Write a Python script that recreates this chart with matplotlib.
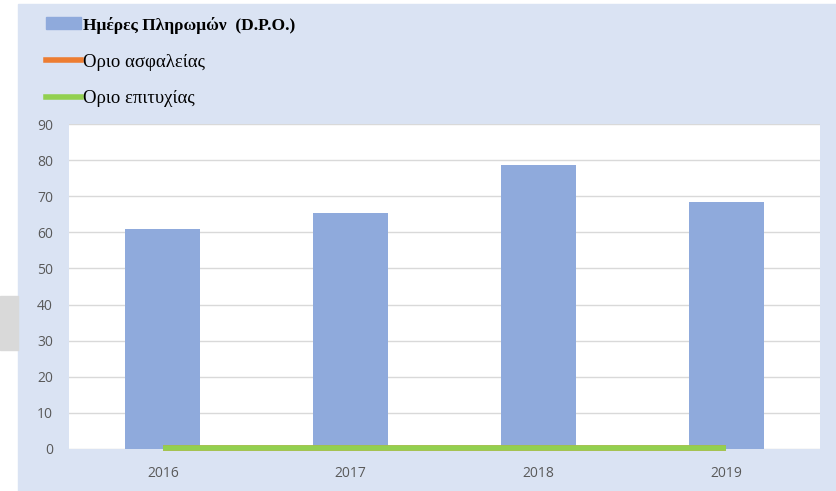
import numpy as np
import matplotlib
matplotlib.use('Agg')
import matplotlib.pyplot as plt
from matplotlib.patches import Rectangle, Patch
from matplotlib.lines import Line2D

years = ['2016', '2017', '2018', '2019']
dpo_days = [61.0, 65.3, 78.6, 68.4]
safety_limit = [0.2, 0.2, 0.2, 0.2]
success_limit = [0.2, 0.2, 0.2, 0.2]

W, H = 836, 491
fig = plt.figure(figsize=(W / 100, H / 100), dpi=100)
fig.patch.set_facecolor('white')

# background panel and the small grey block on the left
fig.patches.append(Rectangle((18 / W, 0), 1 - 18 / W, (H - 4) / H,
                             transform=fig.transFigure, color='#DAE3F3', zorder=-10))
fig.patches.append(Rectangle((0, (H - 350) / H), 18 / W, 54 / H,
                             transform=fig.transFigure, color='#D9D9D9', zorder=-10))

ax = fig.add_axes([69 / W, (H - 449) / H, (820 - 69) / W, (449 - 124) / H])
ax.set_facecolor('white')

x = np.arange(len(years))
ax.bar(x, dpo_days, width=0.4, color='#8FAADC', zorder=2)
ax.plot(x, safety_limit, color='#ED7D31', lw=4, solid_capstyle='butt', zorder=3, clip_on=False)
ax.plot(x, success_limit, color='#92D050', lw=4, solid_capstyle='butt', zorder=4, clip_on=False)

ax.set_xlim(-0.5, 3.5)
ax.set_ylim(0, 90)
ax.set_yticks(range(0, 91, 10))
ax.set_xticks(x)
ax.set_xticklabels(years)
ax.grid(axis='y', color='#D9D9D9', lw=1, zorder=0)
for s in ax.spines.values():
    s.set_visible(False)
ax.tick_params(length=0, labelsize=10, labelcolor='#595959')
ax.tick_params(axis='y', pad=11.5)
ax.tick_params(axis='x', pad=12)
for lab in ax.get_xticklabels() + ax.get_yticklabels():
    lab.set_family('Open Sans')

handles = [Patch(color='#8FAADC'),
           Line2D([], [], color='#ED7D31', lw=4),
           Line2D([], [], color='#92D050', lw=4)]
labels = ['Ημέρες Πληρωμών  (D.P.O.)', 'Οριο ασφαλείας', 'Οριο επιτυχίας']
leg = fig.legend(handles, labels, loc='upper left', bbox_to_anchor=(46 / W, (H - 17) / H),
                 frameon=False, borderpad=0, borderaxespad=0, handlelength=1.85,
                 handleheight=0.6, handletextpad=0.12, labelspacing=1.05,
                 prop={'family': 'Liberation Serif', 'size': 13.5})
leg.get_texts()[0].set_fontweight('bold')
leg.get_texts()[0].set_fontsize(12.5)

fig.savefig('out.png', dpi=100, facecolor=fig.get_facecolor())
